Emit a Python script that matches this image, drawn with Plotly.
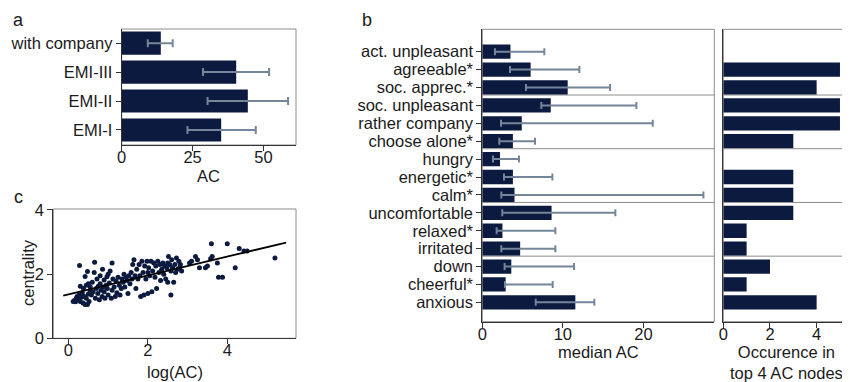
import numpy as np
import plotly.graph_objects as go

# page body keeps an 8px margin, so the figure is drawn 8px smaller and
# every reference pixel position is shifted by that margin
PAGE_W, PAGE_H, BODY = 850, 382, 8
W, H = PAGE_W - BODY, PAGE_H - BODY

# ---------------- data ----------------
# panel a
a_labels = ["EMI-I", "EMI-II", "EMI-III", "with company"]
a_values = [35.1, 44.5, 40.4, 13.8]
a_low = [23.2, 30.3, 28.7, 9.2]
a_high = [47.3, 58.7, 52.0, 18.0]

# panel b (top to bottom)
b_labels = ["act. unpleasant", "agreeable*", "soc. apprec.*", "soc. unpleasant",
            "rather company", "choose alone*", "hungry", "energetic*", "calm*",
            "uncomfortable", "relaxed*", "irritated", "down", "cheerful*", "anxious"]
b_median = [3.5, 6.0, 10.6, 8.5, 4.9, 3.8, 2.2, 3.8, 4.0, 8.6, 2.5, 4.7, 3.6, 2.9, 11.55]
b_low = [1.57, 3.44, 5.42, 7.33, 2.32, 2.11, 1.33, 2.69, 2.36, 2.48, 1.78, 2.36, 2.77, 2.82, 6.63]
b_high = [7.7, 12.05, 15.86, 19.13, 21.16, 6.54, 4.55, 8.7, 27.45, 16.52, 9.07, 9.07, 11.39, 8.74, 13.91]
b_occurrence = [0, 5, 4, 5, 5, 3, 0, 3, 3, 3, 1, 1, 2, 1, 4]
b_group_starts = [3, 6, 9, 12]

# panel c
c_logac = [
    0.12, 0.15, 0.18, 0.20, 0.22, 0.25, 0.27, 0.28, 0.30, 0.30, 0.33, 0.35, 0.37, 0.38, 0.40,
    0.42, 0.42, 0.45, 0.45, 0.48, 0.48, 0.50, 0.50, 0.52, 0.55,
    0.55, 0.58, 0.60, 0.62, 0.65, 0.66, 0.68, 0.70, 0.72, 0.74, 0.75, 0.78, 0.80, 0.80, 0.82,
    0.85, 0.86, 0.88, 0.90, 0.90, 0.92, 0.95, 0.97, 0.98, 1.00, 1.00,
    1.03, 1.05, 1.08, 1.10, 1.10, 1.12, 1.15, 1.18, 1.20, 1.22, 1.25, 1.28, 1.30, 1.33, 1.35,
    1.38, 1.40, 1.42, 1.45, 1.48, 1.50,
    1.52, 1.55, 1.58, 1.60, 1.62, 1.65, 1.68, 1.70, 1.72, 1.75, 1.78, 1.80, 1.82, 1.85, 1.88,
    1.90, 1.92, 1.95, 1.98, 2.00, 2.00,
    2.02, 2.05, 2.08, 2.10, 2.12, 2.15, 2.18, 2.20, 2.22, 2.25, 2.28, 2.30, 2.32, 2.35, 2.38,
    2.40, 2.42, 2.45, 2.48, 2.50, 2.50,
    2.52, 2.55, 2.58, 2.58, 2.60, 2.62, 2.65, 2.68, 2.70, 2.72, 2.75, 2.78, 2.80, 2.82, 2.85,
    3.05, 3.10, 3.20, 3.25, 3.30, 3.45, 3.50, 3.58, 3.60, 3.62,
    3.75, 3.78, 3.88, 4.00, 4.20, 4.30, 4.42, 4.50, 5.20]
c_centrality = [
    1.15, 1.18, 1.14, 1.25, 1.30, 1.20, 1.35, 2.27, 1.15, 1.62, 1.28, 1.42, 1.10, 1.55, 1.30,
    1.05, 1.93, 1.65, 1.25, 1.05, 2.08, 1.38, 1.70, 1.15, 1.50,
    1.60, 1.35, 1.75, 1.45, 2.05, 2.37, 1.25, 1.55, 1.85, 1.40, 1.62, 1.20, 1.70, 1.95, 1.50,
    1.30, 2.15, 1.60, 1.45, 1.82, 1.25, 1.65, 1.92, 1.55, 1.35, 2.00,
    1.72, 2.10, 1.25, 2.35, 1.50, 1.85, 1.60, 1.30, 1.78, 1.42, 1.90, 1.65, 1.35, 1.55, 1.85,
    1.75, 2.00, 1.60, 1.90, 1.80, 1.40,
    1.95, 1.70, 2.05, 1.85, 2.30, 2.45, 1.95, 1.55, 2.15, 1.85, 2.30, 1.95, 1.30, 2.40, 2.05,
    1.35, 2.25, 1.85, 2.40, 2.05, 1.40,
    2.20, 1.95, 2.40, 1.45, 2.10, 2.35, 1.90, 2.25, 1.55, 2.40, 2.05, 2.30, 1.80, 2.15, 2.35,
    2.00, 2.25, 1.85, 2.20, 2.35, 1.75,
    2.55, 2.30, 1.35, 2.10, 2.45, 2.20, 1.75, 2.30, 2.05, 2.50, 2.15, 2.40, 2.20, 2.30, 2.10,
    2.35, 2.40, 2.55, 2.45, 2.20, 2.20, 2.25, 2.48, 2.95, 2.55,
    2.35, 1.90, 1.90, 2.95, 2.20, 2.80, 2.72, 2.72, 2.50]
c_fit_xrange = [-0.13, 5.48]

# ---------------- styling ----------------
NAVY = "#0b1a3e"
ERR = "#75869a"
BORDER = "#8c8c8c"
AXIS = "#333333"
FONT = "Liberation Sans, Arial, sans-serif"
FS = 16.5


def px(x):
    return (x - BODY) / W


def py(y):
    return 1 - (y - BODY) / H


fig = go.Figure()

# panel a
fig.add_trace(go.Bar(
    y=list(range(1, len(a_labels) + 1)), x=a_values, orientation="h", width=0.8,
    marker=dict(color=NAVY, line=dict(width=0)),
    error_x=dict(type="data", symmetric=False,
                 array=[h - v for h, v in zip(a_high, a_values)],
                 arrayminus=[v - l for l, v in zip(a_low, a_values)],
                 color=ERR, thickness=2, width=4),
    xaxis="x", yaxis="y", hoverinfo="skip"))

# panel c
coef = np.polyfit(c_logac, c_centrality, 1)
fx = np.array(c_fit_xrange)
fig.add_trace(go.Scatter(x=c_logac, y=c_centrality, mode="markers",
                         marker=dict(color=NAVY, size=5), xaxis="x2", yaxis="y2",
                         hoverinfo="skip"))
fig.add_trace(go.Scatter(x=fx, y=np.polyval(coef, fx), mode="lines",
                         line=dict(color="black", width=1.8), xaxis="x2", yaxis="y2",
                         hoverinfo="skip"))

# panel b
n = len(b_labels)
b_pos = [n - 1 - i for i in range(n)]
fig.add_trace(go.Bar(
    y=b_pos, x=b_median, orientation="h", width=0.8,
    marker=dict(color=NAVY, line=dict(width=0)),
    error_x=dict(type="data", symmetric=False,
                 array=[h - v for h, v in zip(b_high, b_median)],
                 arrayminus=[v - l for l, v in zip(b_low, b_median)],
                 color=ERR, thickness=2, width=3.5),
    xaxis="x3", yaxis="y3", hoverinfo="skip"))
fig.add_trace(go.Bar(
    y=b_pos, x=b_occurrence, orientation="h", width=0.8,
    marker=dict(color=NAVY, line=dict(width=0)),
    xaxis="x4", yaxis="y4", hoverinfo="skip"))

tickfont = dict(family=FONT, size=FS, color="#1a1a1a")
common = dict(showgrid=False, zeroline=False, showline=True, linecolor=AXIS, linewidth=1,
              ticks="outside", ticklen=5, tickcolor=AXIS, tickwidth=1, tickfont=tickfont,
              fixedrange=True, automargin=False)
xcommon = dict(common, ticklabelstandoff=-8)

dom_a = ([px(121.7), px(296)], [py(145), py(29)])
dom_c = ([px(53.3), px(296)], [py(338.3), py(209)])
dom_b = ([px(482.3), px(714.3)], [py(321.7), py(29.3)])
dom_r = ([px(723.3), 1.0], [py(321.7), py(29.3)])

fig.update_layout(
    template="none",
    width=W, height=H, margin=dict(l=0, r=0, t=0, b=0, pad=0),
    paper_bgcolor="white", plot_bgcolor="white", showlegend=False,
    font=dict(family=FONT, size=FS, color="#1a1a1a"),
    xaxis=dict(domain=dom_a[0], anchor="y", range=[0, 61.5], tickvals=[0, 25, 50], **xcommon),
    yaxis=dict(domain=dom_a[1], anchor="x", range=[0.48, 4.49],
               tickvals=list(range(1, len(a_labels) + 1)), ticktext=a_labels, **common),
    xaxis2=dict(domain=dom_c[0], anchor="y2", range=[-0.38, 5.73], tickvals=[0, 2, 4], **xcommon),
    yaxis2=dict(domain=dom_c[1], anchor="x2", range=[0, 4.03], tickvals=[0, 2, 4], **common),
    xaxis3=dict(domain=dom_b[0], anchor="y3", range=[0, 28.8], tickvals=[0, 10, 20], **xcommon),
    yaxis3=dict(domain=dom_b[1], anchor="x3", range=[-1.08, 15.25],
                tickvals=b_pos, ticktext=b_labels, **common),
    xaxis4=dict(domain=dom_r[0], anchor="y4", range=[0, 5.43], tickvals=[0, 2, 4], **xcommon),
    yaxis4=dict(domain=dom_r[1], anchor="x4", range=[-1.08, 15.25],
                showticklabels=False, **{k: v for k, v in common.items() if k not in ("ticks",)},
                ticks=""),
)

shapes = []
for d in (dom_a, dom_c, dom_b, dom_r):
    shapes.append(dict(type="rect", xref="paper", yref="paper",
                       x0=d[0][0], x1=d[0][1], y0=d[1][0], y1=d[1][1],
                       line=dict(color=BORDER, width=1), layer="below"))
for g in b_group_starts:
    ysep = (b_pos[g - 1] + b_pos[g]) / 2 + 0.08
    for ax in ("x3", "x4"):
        shapes.append(dict(type="line", xref=f"{ax} domain", x0=0, x1=1,
                           yref="y" + ax[1:], y0=ysep, y1=ysep,
                           line=dict(color=BORDER, width=1), layer="above"))
fig.update_layout(shapes=shapes)

ann = []


def text(t, x, y, size=FS, angle=0, xanchor="center", yanchor="middle"):
    ann.append(dict(text=t, x=px(x), y=py(y), xref="paper", yref="paper", showarrow=False,
                    textangle=angle, xanchor=xanchor, yanchor=yanchor,
                    font=dict(family=FONT, size=size, color="#1a1a1a")))


text("AC", 208.9, 176)
text("log(AC)", 174.7, 371.5)
text("centrality", 28, 273, angle=-90)
text("median AC", 598.3, 351.7)
text("Occurence in<br>top 4 AC nodes", 786.7, 362)
text("a", 18.5, 8, size=18, yanchor="top")
text("b", 366.5, 8, size=18, yanchor="top")
text("c", 18.5, 197, size=18)
fig.update_layout(annotations=ann)

fig.write_html("out.html")
